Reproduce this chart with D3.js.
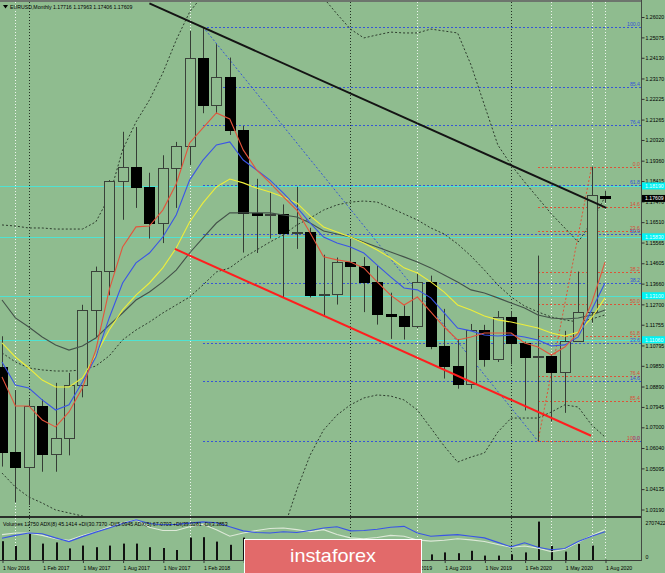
<!DOCTYPE html>
<html><head><meta charset="utf-8">
<script src="https://cdn.jsdelivr.net/npm/d3@7"></script>
<style>
html,body{margin:0;padding:0;background:#8fbc8f;overflow:hidden;}
svg{display:block;}
text{font-family:"Liberation Sans",Arial,sans-serif;}
</style></head><body>
<svg id="chart" width="665" height="573"></svg>
<script>
// ---------------- DATA ----------------
const months = ["Nov 2016","Dec 2016","Jan 2017","Feb 2017","Mar 2017","Apr 2017","May 2017","Jun 2017","Jul 2017","Aug 2017","Sep 2017","Oct 2017","Nov 2017","Dec 2017","Jan 2018","Feb 2018","Mar 2018","Apr 2018","May 2018","Jun 2018","Jul 2018","Aug 2018","Sep 2018","Oct 2018","Nov 2018","Dec 2018","Jan 2019","Feb 2019","Mar 2019","Apr 2019","May 2019","Jun 2019","Jul 2019","Aug 2019","Sep 2019","Oct 2019","Nov 2019","Dec 2019","Jan 2020","Feb 2020","Mar 2020","Apr 2020","May 2020","Jun 2020","Jul 2020","Aug 2020"];
const openP  = [1.0981,1.0587,1.0517,1.0798,1.0576,1.0652,1.0895,1.1244,1.1426,1.1841,1.1906,1.1813,1.1646,1.1904,1.2005,1.2414,1.2192,1.2324,1.2076,1.1693,1.1684,1.1690,1.1601,1.1605,1.1312,1.1318,1.1466,1.1446,1.1372,1.1226,1.1214,1.1169,1.1372,1.1076,1.0986,1.0899,1.1152,1.1018,1.1213,1.1093,1.1026,1.1030,1.0955,1.1098,1.1234,1.17716];
const highP  = [1.1122,1.0874,1.0829,1.0829,1.0906,1.0952,1.1268,1.1445,1.1846,1.2070,1.2092,1.1880,1.1961,1.2023,1.2537,1.2556,1.2476,1.2414,1.2097,1.1852,1.1791,1.1733,1.1815,1.1625,1.1500,1.1487,1.1570,1.1489,1.1448,1.1324,1.1265,1.1412,1.1403,1.1249,1.1109,1.1179,1.1175,1.1239,1.1239,1.1097,1.1496,1.1038,1.1147,1.1422,1.1908,1.17963];
const lowP   = [1.0518,1.0352,1.0340,1.0494,1.0494,1.0570,1.0839,1.1118,1.1312,1.1662,1.1717,1.1575,1.1554,1.1717,1.1916,1.2156,1.2154,1.2055,1.1510,1.1508,1.1575,1.1301,1.1527,1.1302,1.1216,1.1269,1.1289,1.1234,1.1176,1.1110,1.1107,1.1160,1.1062,1.0926,1.0879,1.0879,1.0981,1.1003,1.0992,1.0778,1.0636,1.0727,1.0767,1.1097,1.1185,1.17406];
const closeP = [1.0587,1.0517,1.0798,1.0576,1.0652,1.0895,1.1244,1.1426,1.1841,1.1906,1.1813,1.1646,1.1904,1.2005,1.2414,1.2192,1.2324,1.2076,1.1693,1.1684,1.1690,1.1601,1.1605,1.1312,1.1318,1.1466,1.1446,1.1372,1.1226,1.1214,1.1169,1.1372,1.1076,1.0986,1.0899,1.1152,1.1018,1.1213,1.1093,1.1026,1.1030,1.0955,1.1098,1.1234,1.1776,1.17609];

// moving averages
const maRed    = [1.0933,1.0799,1.0799,1.0734,1.0702,1.0771,1.0882,1.1058,1.1337,1.1536,1.1629,1.1633,1.1707,1.1828,1.2018,1.2088,1.2157,1.2129,1.1986,1.1893,1.1833,1.1768,1.1707,1.1601,1.1490,1.1476,1.1466,1.1439,1.1374,1.1313,1.1267,1.1304,1.1235,1.1165,1.1105,1.1119,1.1137,1.1137,1.1137,1.1091,1.1072,1.1035,1.1072,1.1137,1.1276,1.1466];
const maBlue   = [1.1003,1.0896,1.0882,1.0827,1.0780,1.0804,1.0910,1.1026,1.1207,1.1369,1.1462,1.1508,1.1582,1.1684,1.1846,1.1939,1.2009,1.2023,1.1939,1.1893,1.1846,1.1786,1.1721,1.1647,1.1582,1.1554,1.1536,1.1508,1.1452,1.1397,1.1346,1.1337,1.1300,1.1230,1.1160,1.1147,1.1128,1.1123,1.1128,1.1119,1.1105,1.1077,1.1082,1.1119,1.1244,1.1369];
const maYellow = [1.1091,1.1026,1.0975,1.0919,1.0887,1.0887,1.0929,1.1035,1.1151,1.1244,1.1313,1.1369,1.1439,1.1531,1.1652,1.1740,1.1814,1.1851,1.1833,1.1809,1.1791,1.1768,1.1740,1.1680,1.1629,1.1605,1.1582,1.1554,1.1522,1.1485,1.1439,1.1415,1.1374,1.1327,1.1267,1.1244,1.1216,1.1198,1.1188,1.1174,1.1160,1.1137,1.1123,1.1142,1.1207,1.1300];
const maGrey   = [1.1290,1.1207,1.1165,1.1119,1.1082,1.1058,1.1077,1.1114,1.1174,1.1230,1.1290,1.1327,1.1374,1.1429,1.1508,1.1578,1.1647,1.1694,1.1694,1.1694,1.1694,1.1684,1.1675,1.1647,1.1610,1.1596,1.1582,1.1559,1.1536,1.1513,1.1490,1.1466,1.1439,1.1406,1.1374,1.1337,1.1323,1.1300,1.1276,1.1253,1.1221,1.1207,1.1202,1.1207,1.1221,1.1244];
// Bollinger-type bands (dotted)
const bandUpper = [1.1638,1.1633,1.1624,1.1624,1.1619,1.1619,1.1619,1.1652,1.1768,1.1986,1.2115,1.2217,1.2342,1.2495,1.2625,1.2704,1.2797,1.2889,1.2936,1.2959,1.2959,1.2936,1.2889,1.2820,1.2690,1.2616,1.2546,1.2505,1.2519,1.2532,1.2528,1.2528,1.2546,1.2537,1.2528,1.2380,1.2194,1.2009,1.1916,1.1837,1.1763,1.1689,1.1624,1.1559,1.1652,1.1768];
const bandMiddle= [1.1045,1.1003,1.0975,1.0966,1.0961,1.0961,1.0966,1.0984,1.1031,1.1105,1.1151,1.1188,1.1230,1.1267,1.1304,1.1360,1.1420,1.1439,1.1485,1.1522,1.1559,1.1592,1.1638,1.1670,1.1707,1.1731,1.1744,1.1749,1.1744,1.1717,1.1689,1.1661,1.1624,1.1596,1.1550,1.1494,1.1429,1.1360,1.1304,1.1262,1.1235,1.1211,1.1198,1.1188,1.1202,1.1221];
const bandLower = [1.0488,1.0423,1.0377,1.0349,1.0317,1.0303,1.0289,1.0270,1.0201,1.0155,1.0131,1.0108,1.0085,1.0039,0.9992,0.9992,1.0015,0.9992,1.0034,1.0085,1.0159,1.0224,1.0410,1.0572,1.0688,1.0757,1.0804,1.0836,1.0850,1.0845,1.0827,1.0780,1.0697,1.0613,1.0539,1.0562,1.0581,1.0678,1.0743,1.0743,1.0743,1.0771,1.0804,1.0794,1.0711,1.0655];

// volume panel
const volumes = [1272000,948000,1787000,1110000,1191000,785000,975000,866000,975000,1110000,1110000,866000,812000,677000,1516000,1543000,1245000,1029000,1516000,1381000,1083000,948000,1083000,1218000,1083000,948000,812000,948000,812000,677000,677000,812000,379000,514000,460000,623000,298000,298000,379000,514000,2599000,948000,569000,1083000,975000,12750];
const volMax = 2707422;
const adxBlue  = [53,60,66,64,54,45,57,68,78,89,98,89,86,87,90,93,91,81,71,67,66,69,67,72,78,81,71,72,75,80,82,66,58,60,62,58,54,43,32,42,31,25,28,45,58,69];
const adxWhite = [62,66,66,60,52,48,60,69,81,91,98,80,72,72,81,87,74,58,66,72,77,78,74,69,74,62,54,52,55,60,58,49,46,48,52,49,45,38,31,34,29,20,26,43,60,74];

// axis tick labels
const priceTicks = [1.26020,1.25075,1.24130,1.23170,1.22225,1.21265,1.20320,1.19360,1.18415,1.17470,1.16510,1.15565,1.14605,1.13660,1.12700,1.11755,1.10795,1.09850,1.08890,1.07945,1.07000,1.06040,1.05095,1.04135,1.03190];
const dateTickIdx = [0,3,6,9,12,15,18,21,24,27,30,33,36,39,42,45];

// drawn objects
const fibLevels = [0,14.6,23.6,38.2,50.0,61.8,76.4,85.4,100.0];
const fibBlue = {startIdx:15, high:1.2556, low:1.0636, endIdx:40};
const fibRed  = {startIdx:40, high:1.1908, low:1.0636, highIdx:44};
const cyanLevels = [1.1819,1.1583,1.1310,1.1106];
const blackTrend = [[11.0,1.2665],[45.1,1.1717]];
const redTrend   = [[12.9,1.1527],[43.96,1.0661]];
const darkGridIdx  = [2,14,26,38];
const lightGridIdx = [1,14,31,41,44,45];
const headerText = "EURUSD,Monthly  1.17716 1.17963 1.17406 1.17609";
const volHeader = "Volumes 12750  ADX(8) 45.1414 +DI(30.7370 -DI(5.0945  ADX(5) 67.0703 +DI(39.0281 -DI(3.3853";
const currentPrice = 1.17609;

// ---------------- LAYOUT ----------------
const W=665,H=573, plotRight=641, mainTop=2, mainBottom=516, volTop=519, volBottom=560;
const BG="#8fbc8f", FS=5.2;
const x = d3.scaleLinear().domain([0,45]).range([2,605]);
const y = d3.scaleLinear().domain([1.0319,1.2602]).range([509.5,17]);
const yv = d3.scaleLinear().domain([0,volMax]).range([volBottom,volTop+1]);
const ya = d3.scaleLinear().domain([0,100]).range([volBottom,volTop]);
const cx = i => Math.round(x(i));

const svg = d3.select("#chart");
const defs = svg.append("defs");
defs.append("clipPath").attr("id","mainClip").append("rect").attr("x",0).attr("y",mainTop).attr("width",plotRight).attr("height",mainBottom-mainTop);
defs.append("clipPath").attr("id","volClip").append("rect").attr("x",0).attr("y",volTop).attr("width",plotRight).attr("height",volBottom-volTop);

svg.append("rect").attr("width",W).attr("height",H).attr("fill",BG);

// vertical grid / separators
const grid = svg.append("g");
darkGridIdx.forEach(i=>grid.append("line").attr("x1",cx(i)+0.5).attr("x2",cx(i)+0.5).attr("y1",mainTop).attr("y2",volBottom)
  .attr("stroke","#243024").attr("stroke-dasharray","1,2"));
lightGridIdx.forEach(i=>grid.append("line").attr("x1",cx(i)+0.5).attr("x2",cx(i)+0.5).attr("y1",mainTop).attr("y2",volBottom)
  .attr("stroke","#eef5ee").attr("stroke-dasharray","1,2"));

// ---------------- MAIN PANEL ----------------
const main = svg.append("g").attr("clip-path","url(#mainClip)");

// cyan horizontal lines
cyanLevels.forEach(p=>main.append("line").attr("x1",0).attr("x2",plotRight).attr("y1",Math.round(y(p))+0.5).attr("y2",Math.round(y(p))+0.5)
  .attr("stroke","#4fe3d2").attr("stroke-width",1));

// fib (blue)
const fibB = main.append("g");
fibLevels.forEach(l=>{
  const p = fibBlue.low + l/100*(fibBlue.high-fibBlue.low);
  const yy = Math.round(y(p))+0.5;
  fibB.append("line").attr("x1",x(fibBlue.startIdx)).attr("x2",plotRight).attr("y1",yy).attr("y2",yy)
    .attr("stroke","#3656d6").attr("stroke-dasharray","2,2");
});
fibB.append("line").attr("x1",x(fibBlue.startIdx)).attr("y1",y(fibBlue.high)).attr("x2",x(fibBlue.endIdx)).attr("y2",y(fibBlue.low))
  .attr("stroke","#3656d6").attr("stroke-dasharray","2,2");
// fib (red)
const fibR = main.append("g");
fibLevels.forEach(l=>{
  const p = fibRed.high - l/100*(fibRed.high-fibRed.low);
  const yy = Math.round(y(p))+0.5;
  fibR.append("line").attr("x1",x(fibRed.startIdx)).attr("x2",plotRight).attr("y1",yy).attr("y2",yy)
    .attr("stroke","#dc5438").attr("stroke-dasharray","2,2");
});
fibR.append("line").attr("x1",x(fibRed.startIdx)).attr("y1",y(fibRed.low)).attr("x2",x(fibRed.highIdx)).attr("y2",y(fibRed.high))
  .attr("stroke","#dc5438").attr("stroke-dasharray","2,2");

// bands
const lineGen = d3.line().x((d,i)=>x(i)).y(d=>y(d));
[bandUpper,bandMiddle,bandLower].forEach(arr=>main.append("path").attr("d",lineGen(arr)).attr("fill","none")
  .attr("stroke","#2e3c2e").attr("stroke-dasharray","2,2").attr("stroke-width",1));

// candles
const cg = main.append("g");
months.forEach((m,i)=>{
  const c = cx(i);
  const bull = closeP[i] >= openP[i];
  cg.append("line").attr("x1",c+0.5).attr("x2",c+0.5).attr("y1",y(highP[i])).attr("y2",y(lowP[i]))
    .attr("stroke","#353d35").attr("stroke-width",1);
  const top = Math.round(y(Math.max(openP[i],closeP[i])));
  const bot = Math.round(y(Math.min(openP[i],closeP[i])));
  cg.append("rect").attr("x",c-4.5).attr("y",top+0.5).attr("width",10).attr("height",Math.max(1,bot-top))
    .attr("fill",bull?BG:"#000").attr("stroke",bull?"#3a423a":"#000").attr("stroke-width",1);
});

// moving averages
[[maGrey,"#44524a"],[maYellow,"#eeee3a"],[maBlue,"#3a55e6"],[maRed,"#e4543c"]].forEach(([arr,col])=>
  main.append("path").attr("d",lineGen(arr)).attr("fill","none").attr("stroke",col).attr("stroke-width",1.1));

// trend lines
const tl = d3.line().x(d=>x(d[0])).y(d=>y(d[1]));
main.append("path").attr("d",tl(blackTrend)).attr("stroke","#141414").attr("stroke-width",2).attr("fill","none");
main.append("path").attr("d",tl(redTrend)).attr("stroke","#ff1e1e").attr("stroke-width",2).attr("fill","none");

// fib labels
fibLevels.forEach(l=>{
  const pb = fibBlue.low + l/100*(fibBlue.high-fibBlue.low);
  svg.append("text").attr("x",640).attr("y",y(pb)-1).attr("text-anchor","end").attr("font-size",FS).attr("fill","#3656d6").text(l.toFixed(1));
});
fibLevels.forEach(l=>{
  const pr = fibRed.high - l/100*(fibRed.high-fibRed.low);
  svg.append("text").attr("x",640).attr("y",y(pr)-1).attr("text-anchor","end").attr("font-size",FS).attr("fill","#d8503a").text(l.toFixed(1));
});

// ---------------- VOLUME PANEL ----------------
const vol = svg.append("g").attr("clip-path","url(#volClip)");
months.forEach((m,i)=>{
  vol.append("rect").attr("x",cx(i)).attr("y",yv(volumes[i])).attr("width",2).attr("height",volBottom-yv(volumes[i])).attr("fill","#111");
});
const adxLine = d3.line().x((d,i)=>x(i)).y(d=>ya(d));
vol.append("path").attr("d",adxLine(adxWhite)).attr("fill","none").attr("stroke","#dde9d8").attr("stroke-width",1.1);
vol.append("path").attr("d",adxLine(adxBlue)).attr("fill","none").attr("stroke","#3a55e6").attr("stroke-width",1.1);
svg.append("text").attr("x",3).attr("y",526).attr("font-size",FS).attr("fill","#000").text(volHeader);

// ---------------- FRAMES ----------------
svg.append("rect").attr("x",0).attr("y",0).attr("width",plotRight).attr("height",2).attr("fill","#6d756d");
svg.append("rect").attr("x",0).attr("y",mainBottom).attr("width",plotRight+1).attr("height",2).attr("fill","#2a2f2a");
svg.append("line").attr("x1",0).attr("x2",plotRight+1).attr("y1",volBottom+0.5).attr("y2",volBottom+0.5).attr("stroke","#3a3f3a");
svg.append("line").attr("x1",plotRight+0.5).attr("x2",plotRight+0.5).attr("y1",0).attr("y2",volBottom+1).attr("stroke","#444a44");

// price axis
const ay = svg.append("g").attr("transform",`translate(${plotRight+0.5},0)`)
  .call(d3.axisRight(y).tickValues(priceTicks).tickSize(3).tickPadding(1).tickFormat(d=>d.toFixed(5)));
ay.select(".domain").remove();
ay.selectAll("line").attr("stroke","#333");
ay.selectAll("text").attr("font-size",FS).attr("fill","#000").attr("font-family","Liberation Sans, Arial, sans-serif");

// cyan axis boxes
cyanLevels.forEach(p=>{
  svg.append("rect").attr("x",plotRight+1).attr("y",y(p)-3.5).attr("width",W-plotRight-1).attr("height",7).attr("fill","#00f4f4");
  svg.append("text").attr("x",plotRight+4).attr("y",y(p)+1.8).attr("font-size",FS).attr("fill","#e8ffff").text(p.toFixed(5));
});
// current price box
svg.append("rect").attr("x",plotRight+1).attr("y",y(currentPrice)-3.5).attr("width",W-plotRight-1).attr("height",7).attr("fill","#000");
svg.append("text").attr("x",plotRight+4).attr("y",y(currentPrice)+1.8).attr("font-size",FS).attr("fill","#fff").text(currentPrice.toFixed(5));

// volume axis
const av = svg.append("g").attr("transform",`translate(${plotRight+0.5},0)`)
  .call(d3.axisRight(yv).tickValues([0,volMax]).tickSize(0).tickPadding(4).tickFormat(d3.format("d")));
av.select(".domain").remove();
av.selectAll("text").attr("font-size",FS).attr("fill","#000").attr("font-family","Liberation Sans, Arial, sans-serif");
av.selectAll(".tick").filter(d=>d===volMax).select("text").attr("dy","0.9em");
av.selectAll(".tick").filter(d=>d===0).select("text").attr("dy","-0.3em");

// date axis
const ax = svg.append("g").attr("transform",`translate(0.5,${volBottom})`)
  .call(d3.axisBottom(x).tickValues(dateTickIdx).tickSize(3).tickPadding(3).tickFormat(i=>"1 "+months[i]));
ax.select(".domain").remove();
ax.selectAll("line").attr("stroke","#333");
ax.selectAll("text").attr("font-size",FS).attr("fill","#000").attr("text-anchor","start").attr("x",0).attr("font-family","Liberation Sans, Arial, sans-serif");

// header
svg.append("path").attr("d","M3,5 L8,5 L5.5,8.5 Z").attr("fill","#000");
svg.append("text").attr("x",10).attr("y",9).attr("font-size",FS).attr("fill","#000").text(headerText);

// watermark
svg.append("rect").attr("x",244.5).attr("y",539.5).attr("width",177).attr("height",40).attr("fill","#e26a6a").attr("stroke","#ffffff").attr("stroke-width",1);
svg.append("text").attr("x",333).attr("y",562).attr("text-anchor","middle").attr("font-size",19).attr("font-family","Open Sans, Liberation Sans, sans-serif")
  .attr("font-weight",300).attr("fill","#ffffff").attr("textLength",86).attr("lengthAdjust","spacingAndGlyphs").text("instaforex");
</script>
</body></html>
